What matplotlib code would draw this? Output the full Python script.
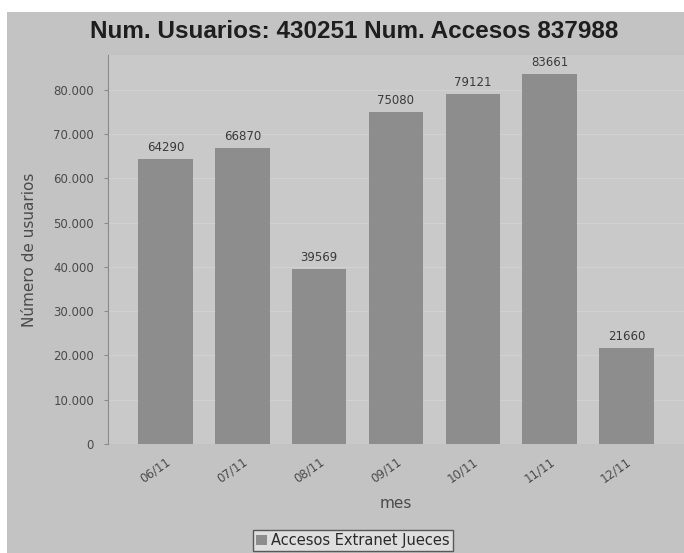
import matplotlib
matplotlib.use("Agg")
import matplotlib.pyplot as plt
from matplotlib.patches import Rectangle

meses = ["06/11", "07/11", "08/11", "09/11", "10/11", "11/11", "12/11"]
accesos = [64290, 66870, 39569, 75080, 79121, 83661, 21660]
y_ticks = [0, 10000, 20000, 30000, 40000, 50000, 60000, 70000, 80000]
y_tick_labels = ["0", "10.000", "20.000", "30.000", "40.000", "50.000",
                 "60.000", "70.000", "80.000"]
titulo = "Num. Usuarios: 430251 Num. Accesos 837988"
serie = "Accesos Extranet Jueces"

W, H = 684, 553
fig = plt.figure(figsize=(W / 100, H / 100), dpi=100, facecolor="white")

# gray chart background panel
fig.patches.append(Rectangle((7 / W, 0), 1 - 7 / W, 1 - 12 / H,
                             transform=fig.transFigure, facecolor="#c3c3c3",
                             edgecolor="none", zorder=-10))

ax = fig.add_axes([108 / W, 109 / H, 576 / W, 389 / H])
ax.set_facecolor("#c9c9c9")

x = list(range(len(meses)))
bars = ax.bar(x, accesos, width=0.71, color="#8d8d8d", edgecolor="none", zorder=2)
for xi, v in zip(x, accesos):
    ax.text(xi, v + 1100, str(v), ha="center", va="bottom",
            fontsize=8.5, color="#3a3a3a", family="DejaVu Sans")

ax.set_xlim(-0.75, len(meses) - 0.25)
ax.set_ylim(0, max(accesos) * 1.05)
ax.set_yticks(y_ticks)
ax.set_yticklabels(y_tick_labels, fontsize=8.5, color="#4a4a4a")
ax.set_xticks(x)
ax.set_xticklabels(meses, rotation=35, ha="right", rotation_mode="anchor",
                   fontsize=8.5, color="#4a4a4a")
ax.tick_params(axis="x", length=0, pad=8)
ax.tick_params(axis="y", length=3, color="#8a8a8a", pad=7)
ax.yaxis.grid(True, color="#d2d2d2", linewidth=0.7, zorder=0)
ax.set_axisbelow(True)

for s in ["top", "right", "bottom"]:
    ax.spines[s].set_visible(False)
ax.spines["left"].set_color("#8a8a8a")

ax.set_xlabel("mes", fontsize=11, color="#4a4a4a", labelpad=8)
ax.set_ylabel("Número de usuarios", fontsize=11, color="#4a4a4a", labelpad=12)

fig.text(354 / W, 1 - 31 / H, titulo, ha="center", va="center",
         fontsize=17.5, fontweight="bold", color="#1e1e1e",
         family="Liberation Sans")

leg = fig.legend([bars], [serie], loc="upper center",
                 bbox_to_anchor=(353 / W, 1 - 530 / H), frameon=True,
                 fancybox=False, fontsize=10.5, handlelength=0.7,
                 handleheight=0.7, handletextpad=0.3, borderpad=0.2,
                 borderaxespad=0)
leg.get_frame().set_edgecolor("#3a3a3a")
leg.get_frame().set_facecolor("#e6e6e6")
for t in leg.get_texts():
    t.set_color("#2a2a2a")

fig.savefig("out.png", dpi=100)
